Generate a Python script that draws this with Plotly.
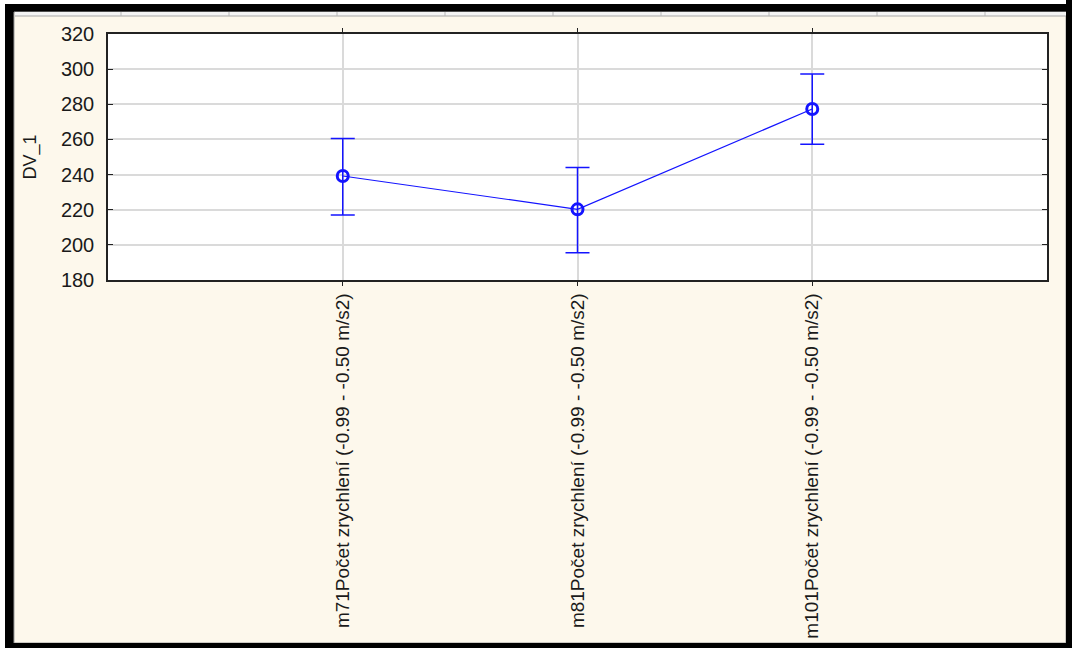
import plotly.graph_objects as go

categories = [
    "m71Počet zrychlení (-0.99 - -0.50 m/s2)",
    "m81Počet zrychlení (-0.99 - -0.50 m/s2)",
    "m101Počet zrychlení (-0.99 - -0.50 m/s2)",
]
means = [239.2, 220.2, 277.3]
upper = [260.5, 244.0, 297.2]
lower = [217.0, 195.5, 257.2]
y_ticks = [180, 200, 220, 240, 260, 280, 300, 320]
y_title = "DV_1"

W, H = 1072, 648
L, R, T, B = 108, 1047, 34, 280

def px(x):
    return (x - L) / (R - L)

def py(y):
    return (B - y) / (B - T)

BLUE = "#1414ff"
CREAM = "#fdf8ec"

fig = go.Figure()
fig.add_trace(go.Scatter(
    x=categories, y=means, mode="lines+markers",
    line=dict(color=BLUE, width=1.2),
    marker=dict(symbol="circle-open", size=11, color=BLUE, line=dict(width=3, color=BLUE)),
    error_y=dict(type="data", symmetric=False,
                 array=[u - m for u, m in zip(upper, means)],
                 arrayminus=[m - l for m, l in zip(means, lower)],
                 color=BLUE, thickness=1.5, width=12),
    showlegend=False, hoverinfo="skip",
))

shapes = []
shapes.append(dict(type="rect", xref="paper", yref="paper", layer="below",
                   x0=px(0), x1=px(W), y0=py(H), y1=py(0),
                   fillcolor="black", line=dict(width=0)))
shapes.append(dict(type="rect", xref="paper", yref="paper", layer="below",
                   x0=px(0), x1=px(5), y0=py(H), y1=py(0),
                   fillcolor="white", line=dict(width=0)))
shapes.append(dict(type="rect", xref="paper", yref="paper", layer="below",
                   x0=px(0), x1=px(W), y0=py(4), y1=py(0),
                   fillcolor="white", line=dict(width=0)))
shapes.append(dict(type="rect", xref="paper", yref="paper", layer="below",
                   x0=px(14), x1=px(1066), y0=py(643), y1=py(12),
                   fillcolor=CREAM, line=dict(color="#9a9a9a", width=1)))
shapes.append(dict(type="rect", xref="paper", yref="paper", layer="below",
                   x0=px(15), x1=px(1066), y0=py(16), y1=py(12),
                   fillcolor="#f4f4f4", line=dict(width=0)))
shapes.append(dict(type="line", xref="paper", yref="paper", layer="below",
                   x0=px(15), x1=px(1066), y0=py(16), y1=py(16),
                   line=dict(color="#a8a8a8", width=1)))
for xx in range(121, 1066, 108):
    shapes.append(dict(type="line", xref="paper", yref="paper", layer="below",
                       x0=px(xx), x1=px(xx), y0=py(16), y1=py(12),
                       line=dict(color="#b8b8b8", width=1)))
shapes.append(dict(type="rect", xref="paper", yref="paper", layer="below",
                   x0=0, x1=1, y0=0, y1=1, fillcolor="white", line=dict(width=0)))
shapes.append(dict(type="rect", xref="paper", yref="paper", layer="above",
                   x0=px(1066), x1=px(W), y0=py(H), y1=py(0),
                   fillcolor="black", line=dict(width=0)))
shapes.append(dict(type="rect", xref="paper", yref="paper", layer="above",
                   x0=px(5), x1=px(W), y0=py(H), y1=py(643),
                   fillcolor="black", line=dict(width=0)))

fig.update_layout(
    width=W, height=H,
    margin=dict(l=L, r=W - R, t=T, b=H - B, pad=0, autoexpand=False),
    paper_bgcolor=CREAM, plot_bgcolor="white",
    font=dict(family="Liberation Sans, Arial, sans-serif", color="#1a1a1a"),
    shapes=shapes,
    xaxis=dict(
        type="category", range=[-1, 3], automargin=False,
        showgrid=True, gridcolor="#dadada", gridwidth=1.5,
        showline=True, linecolor="#222", linewidth=1.5, mirror="ticks",
        ticks="outside", ticklen=4, tickcolor="#222",
        tickangle=-90, tickfont=dict(size=19),
        ticklabelstandoff=0,
    ),
    yaxis=dict(
        range=[180, 320], tickvals=y_ticks, automargin=False,
        showgrid=True, gridcolor="#dadada", gridwidth=1.5,
        showline=True, linecolor="#222", linewidth=1.5, mirror="ticks",
        ticks="inside", ticklen=5, tickcolor="#222",
        tickfont=dict(size=20), ticklabelstandoff=8,
        zeroline=False,
        title=dict(text=y_title, font=dict(size=18), standoff=20),
    ),
)

fig.write_html("out.html", config={"displayModeBar": False},
               post_script="document.body.style.margin='0';document.body.style.overflow='hidden';")
